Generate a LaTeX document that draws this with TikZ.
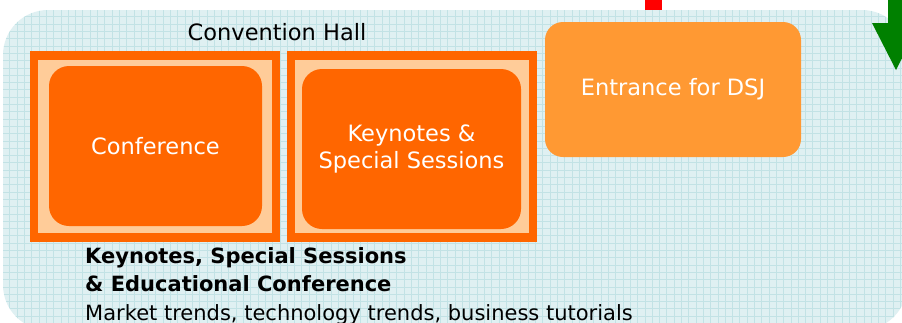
\documentclass[tikz,border=0pt]{standalone}
\usepackage{fontspec}
\setmainfont{DejaVu Sans}
\usetikzlibrary{positioning}

\definecolor{hallblue}{HTML}{DFF0F2}
\definecolor{gridblue}{HTML}{C2E2E5}
\definecolor{boothorange}{HTML}{FF6600}
\definecolor{boothpeach}{HTML}{FFCC99}
\definecolor{entranceorange}{HTML}{FF9933}
\definecolor{arrowgreen}{HTML}{008000}

\begin{document}
\begin{tikzpicture}
		[x=1pt,y=-1pt,
		every node/.style={font=\fontsize{22.5}{27}\selectfont,inner sep=0pt},
		hall/.style={fill=hallblue,rounded corners=45pt,minimum width=904pt,minimum height=320pt,
			path picture={\draw[gridblue,line width=0.6pt,step=7.3pt]
				(path picture bounding box.south west) grid (path picture bounding box.north east);}},
		boothframe/.style={fill=boothorange,minimum width=250pt,minimum height=191pt},
		boothinner/.style={fill=boothpeach,minimum width=234pt,minimum height=173pt},
		room/.style={fill=boothorange,text=white,rounded corners=20pt,minimum height=160pt,align=center},
		entrance/.style={fill=entranceorange,text=white,rounded corners=18pt,minimum width=256pt,minimum height=135pt},
		topic/.style={anchor=base west,font=\fontsize{21}{27}\selectfont\bfseries},
		detail/.style={anchor=base west,font=\fontsize{21}{27}\selectfont}]
		\useasboundingbox (0,0) rectangle (902,322);
		% hall floor
		\node[hall] (hall) at (455,170) {};
		\node[anchor=base] (hallname) at (277,40) {Convention Hall};
		% booths
		\node[boothframe] (confframe) at (155,146.5) {};
		\node[boothinner] (confinner) at (confframe.center) {};
		\node[room,minimum width=213pt] (conf) at (155.5,146) {Conference};
		\node[boothframe,right=7pt of confframe] (keyframe) {};
		\node[boothinner] (keyinner) at (keyframe.center) {};
		\node[room,minimum width=219pt] (keynote) at (411.5,149) {Keynotes \&\\Special Sessions};
		\node[entrance] (entrance) at (673,89.5) {Entrance for DSJ};
		% markers at the wall
		\node[fill=red,minimum width=17pt,minimum height=10pt] (redmark) at (653.5,5) {};
		\coordinate (greentip) at (896,70);
		\fill[arrowgreen] (888,-5) -- (888,23) -- (872,23) -- (greentip)
			-- (920,23) -- (904,23) -- (904,-5) -- cycle;
		% description
		\node[topic] (topicone) at (85,263) {Keynotes, Special Sessions};
		\node[topic] (topictwo) at (85,291.5) {\& Educational Conference};
		\node[detail] (details) at (85,320) {Market trends, technology trends, business tutorials};
\end{tikzpicture}
\end{document}
